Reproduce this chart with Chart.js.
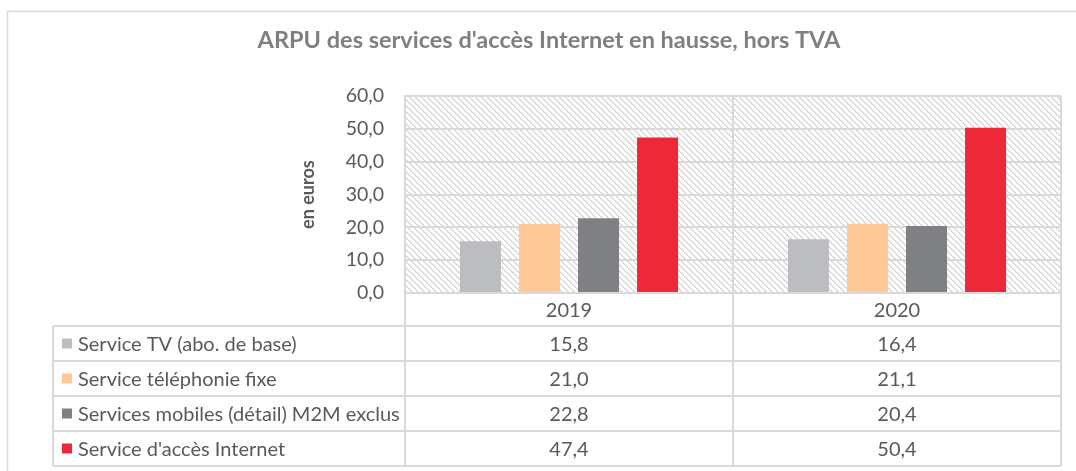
<!DOCTYPE html>
<html>
<head>
<meta charset="utf-8">
<script src="https://cdn.jsdelivr.net/npm/chart.js@4.4.1/dist/chart.umd.min.js"></script>
<style>
  html, body { margin: 0; padding: 0; background: #fff; }
  #wrap { position: relative; width: 1076px; height: 471px; }
</style>
</head>
<body>
<div id="wrap"><canvas id="arpuChart" width="1076" height="471"></canvas></div>
<script>
// Données du graphique
const years = ['2019', '2020'];
const seriesNames = [
    'Service TV (abo. de base)',
    'Service téléphonie fixe',
    'Services mobiles (détail) M2M exclus',
    "Service d'accès Internet"
];
const tvValues = [15.8, 16.4];
const fixeValues = [21.0, 21.1];
const mobileValues = [22.8, 20.4];
const internetValues = [47.4, 50.4];
const seriesColors = ['#bcbdc0', '#fec997', '#7f8083', '#ed2939'];

const textColor = '#595959';
const lineColor = '#d9d9d9';
const fontFamily = 'Lato, "Open Sans", sans-serif';

// Format français : virgule décimale
function fr(v) {
    return Number(v).toFixed(1).replace('.', ',');
}

// Motif hachuré pour le fond de la zone de traçage
function makeHatch() {
    const c = document.createElement('canvas');
    c.width = 6;
    c.height = 6;
    const g = c.getContext('2d');
    g.fillStyle = '#ffffff';
    g.fillRect(0, 0, 6, 6);
    for (let i = 0; i < 6; i++) {
        g.fillStyle = '#cfcfcf';
        g.fillRect(i, i, 1, 1);
        g.fillStyle = '#e6e6e6';
        g.fillRect((i + 1) % 6, i, 1, 1);
    }
    return g.createPattern(c, 'repeat');
}

const hatchPlugin = {
    id: 'hatchBackground',
    beforeDraw: (chart) => {
        const ctx = chart.ctx;
        const a = chart.chartArea;
        ctx.save();
        // cadre extérieur du graphique
        ctx.strokeStyle = lineColor;
        ctx.lineWidth = 1.5;
        ctx.strokeRect(7.5, 11.5, chart.width + 10, chart.height + 10);
        ctx.fillStyle = makeHatch();
        ctx.fillRect(a.left, a.top, a.right - a.left, a.bottom - a.top);
        ctx.restore();
    }
};

// Tableau de données sous le graphique
const dataTablePlugin = {
    id: 'dataTable',
    afterDraw: (chart) => {
        const ctx = chart.ctx;
        const a = chart.chartArea;
        const xScale = chart.scales.x;
        const colW = (a.right - a.left) / years.length;
        const headerH = 33;
        const rowH = 35;
        const tableLeft = 53;
        const rowsTop = a.bottom + headerH;
        const tableBottom = rowsTop + rowH * seriesNames.length;

        ctx.save();
        ctx.strokeStyle = lineColor;
        ctx.lineWidth = 2;

        // lignes horizontales
        for (let r = 0; r <= seriesNames.length; r++) {
            const y = rowsTop + r * rowH;
            ctx.beginPath();
            ctx.moveTo(tableLeft, y);
            ctx.lineTo(a.right, y);
            ctx.stroke();
        }
        // lignes verticales
        ctx.beginPath();
        ctx.moveTo(tableLeft, rowsTop);
        ctx.lineTo(tableLeft, tableBottom);
        ctx.stroke();
        for (let c = 0; c <= years.length; c++) {
            const x = a.left + c * colW;
            ctx.beginPath();
            ctx.moveTo(x, a.bottom);
            ctx.lineTo(x, tableBottom);
            ctx.stroke();
        }

        ctx.font = '20px ' + fontFamily;
        ctx.fillStyle = textColor;
        ctx.textBaseline = 'middle';
        ctx.textAlign = 'center';

        // années
        years.forEach((yr, i) => {
            ctx.fillText(yr, xScale.getPixelForValue(i), a.bottom + headerH / 2 + 1);
        });

        // lignes des séries
        chart.data.datasets.forEach((ds, r) => {
            const yMid = rowsTop + r * rowH + rowH / 2;
            ctx.fillStyle = ds.backgroundColor;
            ctx.fillRect(tableLeft + 9, yMid - 5, 10, 10);
            ctx.fillStyle = textColor;
            ctx.textAlign = 'left';
            ctx.fillText(ds.label, tableLeft + 25, yMid + 1);
            ctx.textAlign = 'center';
            ds.data.forEach((v, i) => {
                ctx.fillText(fr(v), xScale.getPixelForValue(i), yMid + 1);
            });
        });
        ctx.restore();
    }
};

const allValues = [tvValues, fixeValues, mobileValues, internetValues];

new Chart(document.getElementById('arpuChart'), {
    type: 'bar',
    data: {
        labels: years,
        datasets: seriesNames.map((name, i) => ({
            label: name,
            data: allValues[i],
            backgroundColor: seriesColors[i],
            borderWidth: 0,
            categoryPercentage: 0.72,
            barPercentage: 0.695
        }))
    },
    options: {
        responsive: false,
        animation: false,
        layout: {
            padding: { left: 37, right: 15, top: 0, bottom: 178 }
        },
        plugins: {
            legend: { display: false },
            tooltip: { enabled: false },
            title: {
                display: true,
                text: "ARPU des services d'accès Internet en hausse, hors TVA",
                color: '#7f7f7f',
                font: { family: fontFamily, size: 23.5, weight: 'bold' },
                padding: { top: 26, bottom: 42 }
            }
        },
        scales: {
            x: {
                ticks: { display: false },
                grid: {
                    color: lineColor,
                    lineWidth: 2,
                    drawTicks: false,
                    offset: true
                },
                border: { color: lineColor, width: 2 }
            },
            y: {
                min: 0,
                max: 60,
                ticks: {
                    stepSize: 10,
                    padding: 21,
                    color: textColor,
                    font: { family: fontFamily, size: 19.5 },
                    callback: (value) => fr(value)
                },
                grid: {
                    color: lineColor,
                    lineWidth: 2,
                    drawTicks: false
                },
                border: { color: lineColor, width: 2 },
                title: {
                    display: true,
                    text: 'en euros',
                    color: textColor,
                    font: { family: fontFamily, size: 18, weight: 'bold' },
                    padding: { top: 260, bottom: 0 }
                },
                afterFit: (scale) => {
                    scale.width = 368;
                }
            }
        }
    },
    plugins: [hatchPlugin, dataTablePlugin]
});
</script>
</body>
</html>
